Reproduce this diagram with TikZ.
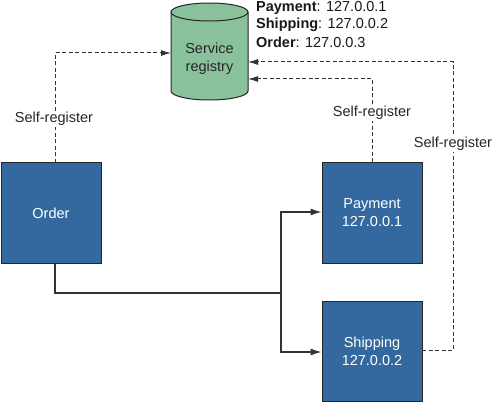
\documentclass[tikz,border=0pt]{standalone}
\usepackage{fontspec}
\setmainfont{Liberation Sans}
\usetikzlibrary{arrows.meta}
\definecolor{boxblue}{HTML}{33699E}
\definecolor{reggreen}{HTML}{88C19C}
\definecolor{linegray}{HTML}{333333}
\newcommand{\infofont}{\fontsize{14.5}{17.5}\selectfont}
\begin{document}
\begin{tikzpicture}[x=1pt,y=1pt,
  svc/.style={draw=black!85, line width=1pt, fill=boxblue, minimum width=100pt, minimum height=100pt, text=white, align=center, font=\fontsize{14.5}{18}\selectfont, inner sep=0pt},
  reglabel/.style={fill=white, inner sep=1.5pt, font=\fontsize{14.5}{18}\selectfont, text=black!85},
  call/.style={draw=linegray, line width=1.1pt, -{Latex[length=11pt,width=7pt]}},
  reg/.style={draw=linegray, line width=1pt, dash pattern=on 4pt off 2.5pt, -{Latex[length=10pt,width=6pt]}},
  infoline/.style={anchor=west, inner sep=0pt, text=black!90}]
\useasboundingbox (0,0) rectangle (493,405);
% cylinder
\fill[reggreen] (171,393) -- (171,314) arc[start angle=180, end angle=360, x radius=38.5pt, y radius=9pt] -- (248,393) arc[start angle=0, end angle=180, x radius=38.5pt, y radius=9pt] -- cycle;
\draw[black!85, line width=1pt] (171,393) -- (171,314) arc[start angle=180, end angle=360, x radius=38.5pt, y radius=9pt] -- (248,393);
\draw[black!85, line width=1pt] (209.5,393) ellipse[x radius=38.5pt, y radius=9pt];
\node[minimum width=77pt, minimum height=97pt, inner sep=0pt] (registry) at (209.5,353.5) {};
\node[align=center, font=\fontsize{14.5}{17.5}\selectfont, text=black!85, inner sep=0pt] (regtext) at (209.5,346) {Service\\registry};
% info lines
\node[infoline] (i1) at (256,397) {\infofont\textbf{Payment}: 127.0.0.1};
\node[infoline] (i2) at (256,380) {\infofont\textbf{Shipping}: 127.0.0.2};
\node[infoline] (i3) at (256,362.5) {\infofont\textbf{Order}: 127.0.0.3};
% services
\node[svc] (order) at (51,192) {Order};
\node[svc] (payment) at (372,192) {Payment\\127.0.0.1};
\node[svc] (shipping) at (372,54) {Shipping\\127.0.0.2};
% coordinates
\coordinate (os) at (55,142);
\coordinate (ot) at (55,242);
\coordinate (j1) at (55,112);
\coordinate (j2) at (281,112);
\coordinate (rl) at (171,352);
\coordinate (rp) at (248,326);
\coordinate (rs) at (248,343);
\coordinate (se) at (422,55);
% calls
\draw[draw=linegray, line width=1.1pt] (os) -- (j1) -- (j2);
\draw[call] (j2) |- (payment.west |- 0,193);
\draw[call] (j2) |- (shipping.west |- 0,53);
% registrations
\draw[reg] (ot) |- (rl);
\draw[reg] (payment.north) |- (rp);
\draw[reg] (se) -| (453,343) -- (rs);
% labels
\node[reglabel] (l1) at (54,286) {Self-register};
\node[reglabel] (l2) at (372,292) {Self-register};
\node[reglabel] (l3) at (453,261) {Self-register};
\end{tikzpicture}
\end{document}
